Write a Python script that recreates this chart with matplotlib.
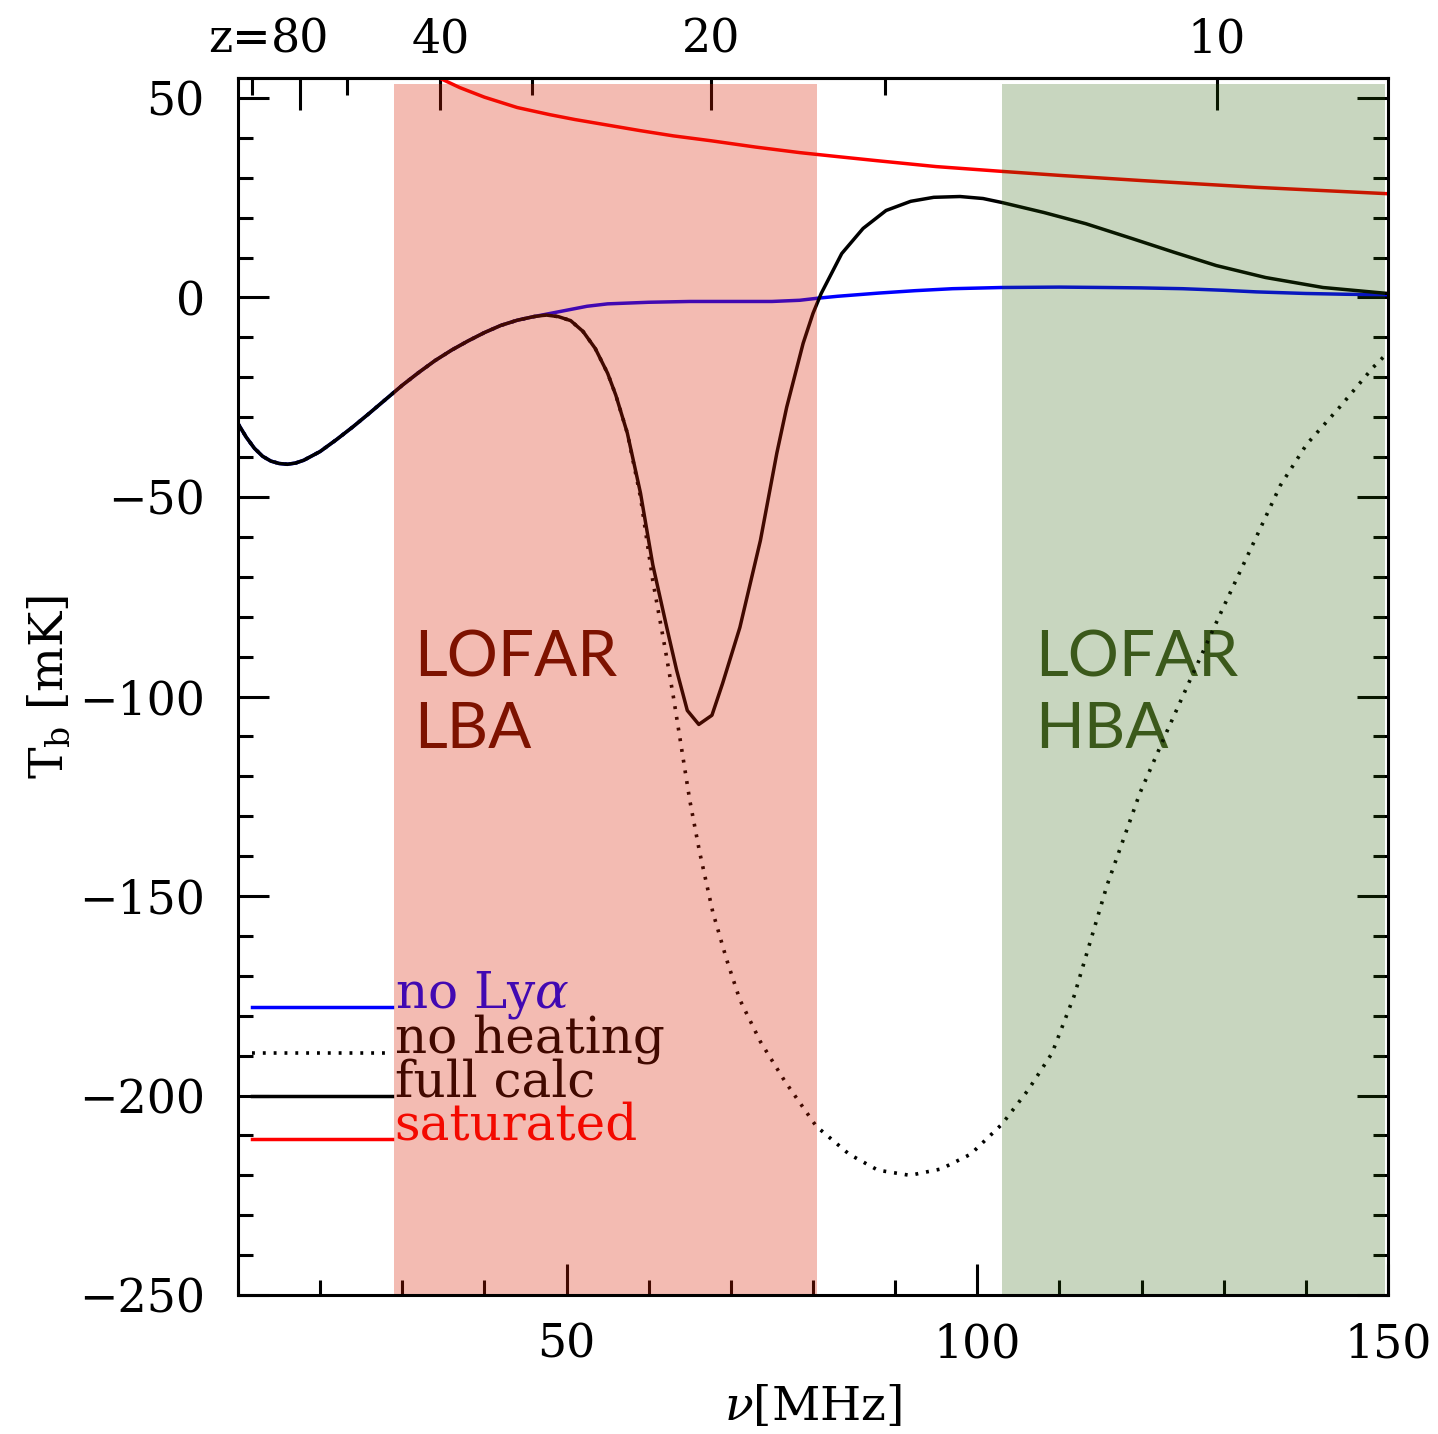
import numpy as np
import matplotlib
matplotlib.use('Agg')
import matplotlib.pyplot as plt
from matplotlib.ticker import MultipleLocator
from matplotlib.legend_handler import HandlerLine2D
from matplotlib.lines import Line2D

plt.rcParams['font.family'] = ['DejaVu Serif']
plt.rcParams['mathtext.fontset'] = 'dejavuserif'

## data (nu in MHz, T_b in mK)

# shared low-frequency part (all models agree here)
nu_low = [10, 11, 12, 13, 14, 15, 16, 17, 18, 20, 22, 24, 26, 28, 30, 32, 34, 36, 38, 40, 42, 44, 46]
tb_low = [-31.6, -35.0, -37.8, -39.8, -41.0, -41.6, -41.8, -41.5, -40.8, -38.6, -35.6, -32.4,
          -29.0, -25.5, -22.0, -18.8, -15.8, -13.2, -10.9, -8.8, -7.0, -5.7, -4.8]

# no Lya
nu_lya = [48, 50, 52.5, 55, 60, 65, 70, 75, 78.4, 80.5, 83, 88, 92.4, 97, 103, 110, 115.5,
          120, 125, 130, 134, 140, 145, 150]
tb_lya = [-4.0, -3.2, -2.2, -1.6, -1.2, -1.0, -1.0, -1.0, -0.7, -0.2, 0.3, 1.1, 1.7, 2.2, 2.5,
          2.6, 2.5, 2.4, 2.2, 1.8, 1.4, 1.0, 0.8, 0.7]

# full calculation
nu_full = [47.5, 49, 50.5, 52, 53.5, 55, 56, 57.4, 59, 60.5, 62.2, 63.4, 64.7, 66.1, 67.7, 69,
           71.1, 73.6, 75.6, 76.8, 78.8, 80, 81, 83.5, 86.1, 88.9, 91.9, 94.7, 97.9, 100.7, 103,
           108.1, 113.2, 118.8, 124, 129.1, 135.1, 142.1, 150]
tb_full = [-4.4, -4.8, -5.8, -8.5, -12.8, -19.0, -24.5, -34.0, -49.0, -67.0, -82.7, -93.4,
           -103.5, -107.0, -104.7, -96.7, -82.7, -60.9, -39.0, -27.5, -11.5, -4.0, 1.0, 11.0,
           17.3, 21.8, 24.1, 25.1, 25.3, 24.8, 23.8, 21.3, 18.5, 14.8, 11.3, 8.0, 5.0, 2.5, 1.0]

# no heating
nu_noheat = [47.5, 49, 50.5, 52, 53.5, 55, 56, 57.4, 59, 60.5, 62, 63, 64, 65, 66.2, 67.8, 69.5,
             71.1, 73.6, 76.6, 80.4, 84.4, 87.9, 91.8, 95.6, 99.2, 103, 106.2, 109.1, 111.8,
             115.8, 119.8, 123.1, 125.9, 129.9, 134, 136.9, 140.1, 144.2, 148.2, 150]
tb_noheat = [-4.4, -4.8, -5.8, -8.5, -12.8, -19.0, -24.5, -34.0, -50.0, -71.0, -88.0, -100.0,
             -113.0, -126.0, -139.0, -154.0, -166.0, -176.0, -186.5, -196.5, -207.7, -214.7,
             -218.7, -220.0, -218.4, -214.7, -207.2, -198.6, -189.4, -175.0, -147.3, -124.2,
             -108.7, -95.9, -77.9, -59.9, -47.1, -36.8, -27.3, -17.5, -13.8]

# saturated
nu_sat = [34, 37, 40, 44, 48, 51, 55, 59, 63, 67.5, 73, 78.4, 83, 87.7, 95, 103, 110, 120, 134, 142, 150]
tb_sat = [55.5, 52.6, 50.2, 47.6, 45.8, 44.6, 43.2, 41.8, 40.5, 39.3, 37.7, 36.3, 35.3, 34.3,
          32.8, 31.6, 30.6, 29.3, 27.6, 26.8, 26.0]

lba_band = [29.0, 80.5]
hba_band = [103.0, 149.7]
band_top = 53.6

z_major = [80, 40, 20, 10]
z_minor = [120, 60, 30, 15]


def nu2z(nu):
    nu = np.asarray(nu, dtype=float)
    with np.errstate(divide='ignore', invalid='ignore'):
        return 1420.4 / nu - 1.0


def z2nu(z):
    z = np.asarray(z, dtype=float)
    with np.errstate(divide='ignore', invalid='ignore'):
        return 1420.4 / (1.0 + z)


class BaselineLine(HandlerLine2D):
    # put the legend line on the text baseline, as in the original plot
    def create_artists(self, legend, orig_handle, xdescent, ydescent, width, height, fontsize, trans):
        arts = super().create_artists(legend, orig_handle, xdescent, ydescent, width, height, fontsize, trans)
        for a in arts:
            a.set_ydata(np.asarray(a.get_ydata()) - 0.35 * fontsize)
        return arts


fig = plt.figure(figsize=(14.38, 14.34), dpi=100)
ax = fig.add_axes([0.1655, 0.0969, 0.7997, 0.8487])

lw = 2.5
l_lya, = ax.plot(nu_low + nu_lya, tb_low + tb_lya, color='#0000ff', lw=lw, zorder=2.1,
                 label=r'no Ly$\alpha$')
l_noheat, = ax.plot(nu_low + nu_noheat, tb_low + tb_noheat, color='black', lw=2.6,
                    linestyle=(0, (0.8, 2.2)), zorder=2.0, label='no heating')
l_full, = ax.plot(nu_low + nu_full, tb_low + tb_full, color='black', lw=lw, zorder=2.2,
                  label='full calc')
l_sat, = ax.plot(nu_sat, tb_sat, color='#ff0000', lw=lw, zorder=2.1, label='saturated')

# LOFAR bands, laid over everything like in the original
ax.fill_between(lba_band, -250, band_top, color=(218 / 255, 32 / 255, 0), alpha=0.3, lw=0, zorder=3)
ax.fill_between(hba_band, -250, band_top, color=(39 / 255, 95 / 255, 0), alpha=0.25, lw=0, zorder=3)

ax.text(31.5, -113.0, 'LOFAR\nLBA', family='Lato', fontsize=46, color=(86 / 255, 12 / 255, 0),
        ha='left', va='baseline', linespacing=1.3, zorder=1.8)
ax.text(107.0, -113.0, 'LOFAR\nHBA', family='Lato', fontsize=46, color=(67 / 255, 88 / 255, 37 / 255),
        ha='left', va='baseline', linespacing=1.3, zorder=1.8)

leg = ax.legend(handles=[l_lya, l_noheat, l_full, l_sat], loc='upper left',
                bbox_to_anchor=(0.0122, 0.268), frameon=False, fontsize=36,
                handlelength=2.8, handletextpad=0.05, labelspacing=-0.13,
                borderpad=0, borderaxespad=0, labelcolor='linecolor',
                handler_map={Line2D: BaselineLine()})
leg.set_zorder(2.5)

ax.set_xlim(10, 150)
ax.set_ylim(-250, 55)

ax.xaxis.set_major_locator(MultipleLocator(50))
ax.xaxis.set_minor_locator(MultipleLocator(10))
ax.yaxis.set_major_locator(MultipleLocator(50))
ax.yaxis.set_minor_locator(MultipleLocator(10))

ax.tick_params(which='both', direction='in', top=False, right=True, width=2.2, colors='black')
ax.tick_params(which='major', length=22)
ax.tick_params(which='minor', length=11)
ax.tick_params(axis='x', labelsize=33, pad=19.5)
ax.tick_params(axis='y', labelsize=33, pad=24)

for s in ax.spines.values():
    s.set_linewidth(2.2)
    s.set_zorder(4)

sec = ax.secondary_xaxis('top', functions=(nu2z, z2nu))
sec.set_xticks(z_major)
sec.set_xticks(z_minor, minor=True)
sec.set_xticklabels([str(z) for z in z_major])
sec.tick_params(which='both', direction='in', width=2.2)
sec.tick_params(which='major', length=23, labelsize=33, pad=11)
sec.tick_params(which='minor', length=12)
sec.spines['top'].set_linewidth(2.2)

ax.annotate('z=', xy=(float(z2nu(z_major[0])), 1.0), xycoords=('data', 'axes fraction'),
            xytext=(-21, 18.7), textcoords='offset points', ha='right', va='baseline', fontsize=33)

ax.set_xlabel(r'$\nu$[MHz]', fontsize=34, labelpad=12)
ax.set_ylabel(r'T$_{\rm b}$ [mK]', fontsize=34, labelpad=4)

fig.savefig('out.png', dpi=100)
